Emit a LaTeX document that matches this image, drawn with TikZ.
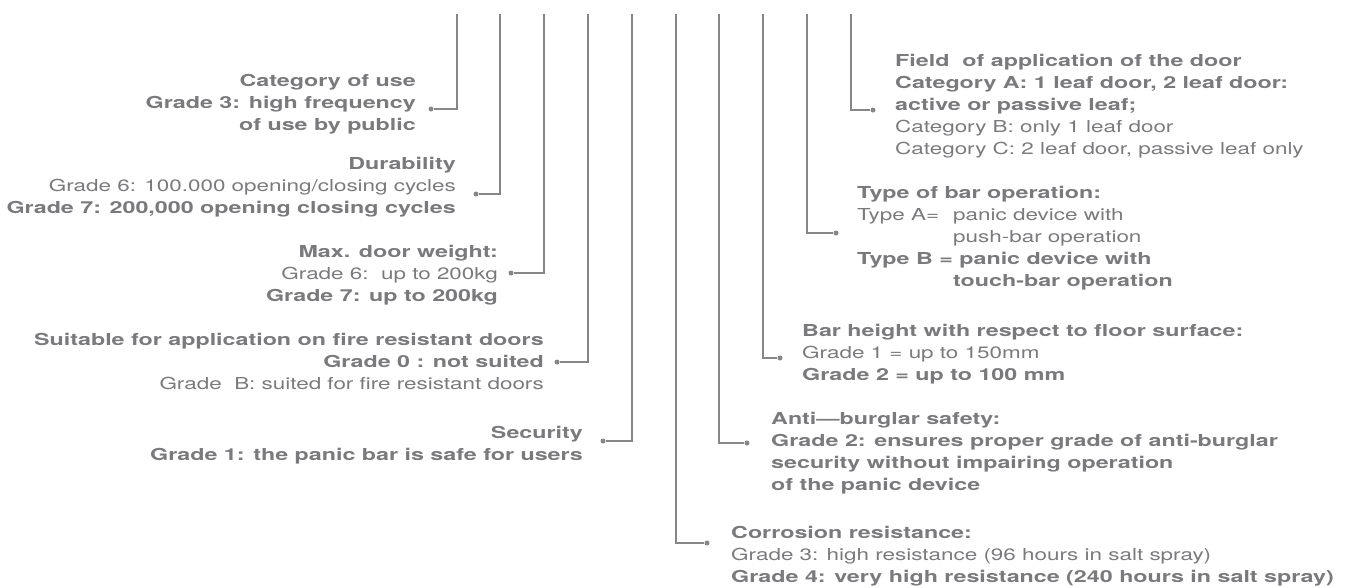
\documentclass[tikz,border=0pt]{standalone}
\usepackage{fontspec}
\setmainfont{TeX Gyre Heros}[FakeStretch=1.36,BoldFeatures={FakeStretch=1.41}]
\definecolor{labelgray}{RGB}{122,122,125}
\definecolor{linegray}{RGB}{135,135,138}

\begin{document}
\begin{tikzpicture}[x=1pt,y=-1pt,
    lbl/.style={inner sep=0pt,text=labelgray,font=\fontsize{16.5}{22}\selectfont},
    lblleft/.style={lbl,align=right,anchor=base east},
    lblright/.style={lbl,align=left,anchor=base west},
    bulletdot/.style={circle,fill=linegray,inner sep=0pt,minimum size=5pt},
    conn/.style={draw=linegray,line width=1.6pt}]

        \useasboundingbox (0,0) rectangle (1345,587);

        % tops of the ten leader lines
        \foreach \name/\x in {tcat/457, tdur/500, twgt/544, tfire/588, tsec/632, tcorr/676, tanti/719, tbar/763, ttype/807, tfield/851}
            {
            \coordinate (\name) at (\x,14);
            }

        % left hand labels (placed at the baseline of their last line)
        \node[lblleft] (cat) at (416,130) {\textbf{Category of use}\\\textbf{Grade 3: high frequency}\\\textbf{of use by public}};
        \node[bulletdot] (dcat) at (431,109) {};

        \node[lblleft] (dur) at (456,213) {\textbf{Durability}\\Grade 6: 100.000 opening/closing cycles\\\textbf{Grade 7: 200,000 opening closing cycles}};
        \node[bulletdot] (ddur) at (476,194) {};

        \node[lblleft] (wgt) at (498,301) {\textbf{Max. door weight:}\\Grade 6:\ \ up to 200kg\\\textbf{Grade 7: up to 200kg}};
        \node[bulletdot] (dwgt) at (511,273) {};

        \node[lblleft] (fire) at (544,389) {\textbf{Suitable for application on fire resistant doors}\\\textbf{Grade 0 : not suited}\\Grade\ \ B: suited for fire resistant doors};
        \node[bulletdot] (dfire) at (557,362) {};

        \node[lblleft] (sec) at (583,460) {\textbf{Security}\\\textbf{Grade 1: the panic bar is safe for users}};
        \node[bulletdot] (dsec) at (603,441) {};

        % right hand labels
        \node[lblright] (field) at (895,154) {\textbf{Field\ \ of application of the door}\\\textbf{Category A: 1 leaf door, 2 leaf door:}\\\textbf{active or passive leaf;}\\Category B: only 1 leaf door\\Category C: 2 leaf door, passive leaf only};
        \node[bulletdot] (dfield) at (873,110) {};

        \node[lblright] (type) at (857,286) {\textbf{Type of bar operation:}\\\makebox[96pt][l]{Type A=}panic device with\\\hspace*{96pt}push-bar operation\\\textbf{Type B = panic device with}\\\hspace*{96pt}\textbf{touch-bar operation}};
        \node[bulletdot] (dtype) at (836,233) {};

        \node[lblright] (bar) at (802,380) {\textbf{Bar height with respect to floor surface:}\\Grade 1 = up to 150mm\\\textbf{Grade 2 = up to 100 mm}};
        \node[bulletdot] (dbar) at (780,358) {};

        \node[lblright] (anti) at (771,490) {\textbf{Anti---burglar safety:}\\\textbf{Grade 2: ensures proper grade of anti-burglar}\\\textbf{security without impairing operation}\\\textbf{of the panic device}};
        \node[bulletdot] (danti) at (747,443) {};

        \node[lblright] (corr) at (731,582) {\textbf{Corrosion resistance:}\\Grade 3: high resistance (96 hours in salt spray)\\\textbf{Grade 4: very high resistance (240 hours in salt spray)}};
        \node[bulletdot] (dcorr) at (707,543) {};

        % leader lines
        \foreach \from/\to in {tcat/dcat, tdur/ddur, twgt/dwgt, tfire/dfire, tsec/dsec, tcorr/dcorr, tanti/danti, tbar/dbar, ttype/dtype, tfield/dfield}
            {
            \draw[conn] (\from) |- (\to);
            }

\end{tikzpicture}
\end{document}
